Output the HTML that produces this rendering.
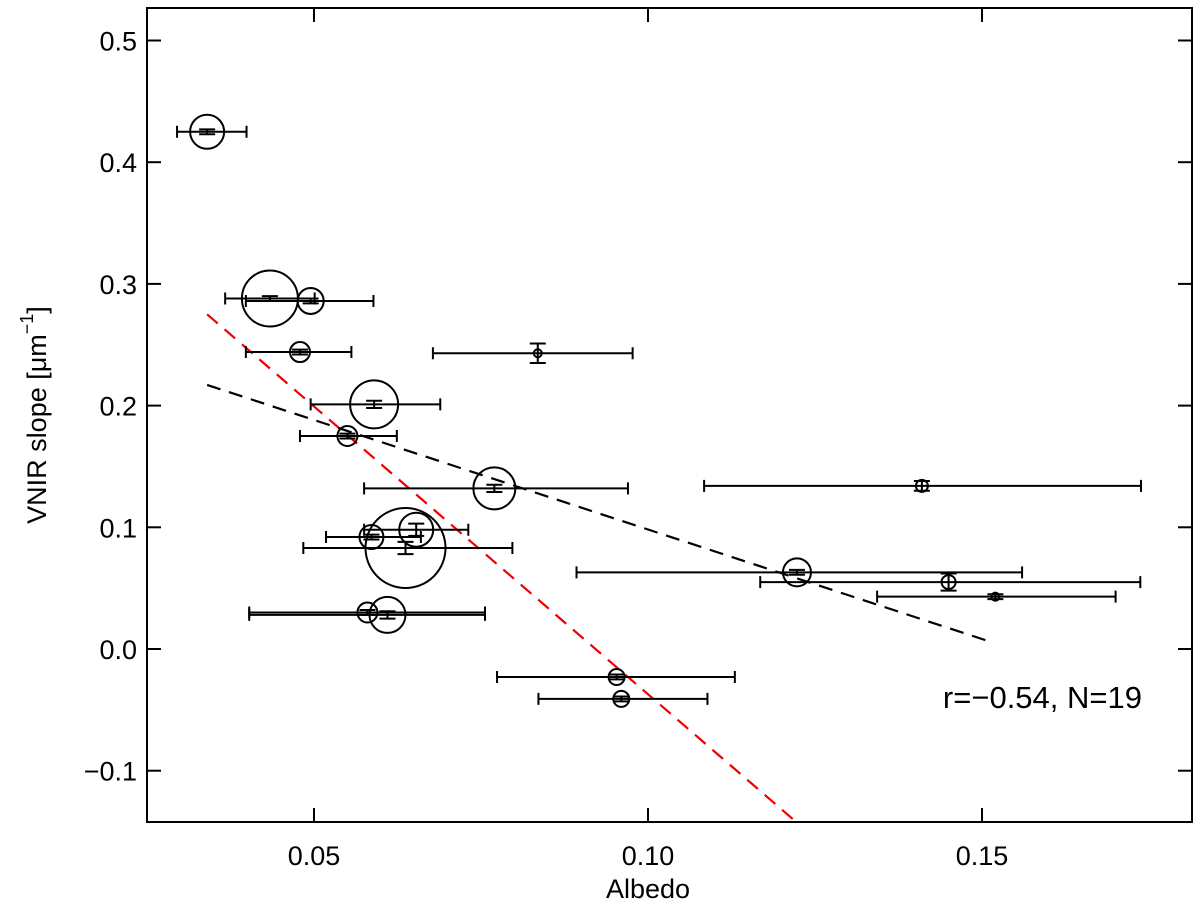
<!DOCTYPE html>
<html><head><meta charset="utf-8"><style>
body{margin:0;background:#fff}
svg text{font-family:"Liberation Sans",Arial,sans-serif;fill:#000}
</style></head><body>
<svg id="chart" width="1200" height="906" xmlns="http://www.w3.org/2000/svg">
<defs><clipPath id="clip"><rect x="147" y="8" width="1045" height="814"/></clipPath></defs>
<rect x="147" y="8" width="1045" height="814" fill="none" stroke="#000" stroke-width="2"/>
<g id="ticks"></g>
<g id="lines" clip-path="url(#clip)"></g>
<g id="points"></g>
<text x="648" y="898" font-size="27" text-anchor="middle">Albedo</text>
<text transform="translate(46,415) rotate(-90)" font-size="27" text-anchor="middle">VNIR slope [μm<tspan font-size="18" dy="-13">−1</tspan><tspan dy="13">]</tspan></text>
<text x="1142" y="708" font-size="31" text-anchor="end">r=−0.54, N=19</text>
</svg>
<script>
const xVals=[0.034,0.0434,0.0495,0.0479,0.0835,0.059,0.055,0.077,0.141,0.0653,0.0586,0.0637,0.1223,0.145,0.152,0.058,0.061,0.0953,0.096];
const yVals=[0.425,0.288,0.286,0.244,0.243,0.201,0.175,0.132,0.134,0.098,0.092,0.083,0.063,0.055,0.043,0.030,0.028,-0.023,-0.041];
const xLo=[0.0295,0.0367,0.0398,0.0398,0.0678,0.0495,0.0479,0.0575,0.1084,0.0575,0.0518,0.0484,0.0893,0.1168,0.1343,0.0403,0.0403,0.0774,0.0836];
const xHi=[0.0399,0.0501,0.0589,0.0556,0.0977,0.0689,0.0624,0.0970,0.1738,0.0731,0.0660,0.0797,0.1560,0.1737,0.1700,0.0756,0.0756,0.1130,0.1089];
const yErr=[0.002,0.002,0.002,0.002,0.008,0.003,0.002,0.003,0.004,0.005,0.002,0.005,0.002,0.007,0.002,0.002,0.003,0.002,0.002];
const sizes=[17,28,13,10,4,24,10,21,6,17,12,40,14,7,4,10,18,8,8];
const xTicks=[0.05,0.10,0.15];
const xTickLabels=["0.05","0.10","0.15"];
const yTicks=[0.5,0.4,0.3,0.2,0.1,0.0,-0.1];
const yTickLabels=["0.5","0.4","0.3","0.2","0.1","0.0","−0.1"];
const redFit=[0.034,0.275,-4.73];
const blackFit=[0.034,0.217,-1.80,0.1508];
const X=v=>314+(v-0.05)*6680, Y=v=>649-v*1217;
const NS="http://www.w3.org/2000/svg";
function mk(parent,tag,attrs){const e=document.createElementNS(NS,tag);for(const k in attrs)e.setAttribute(k,attrs[k]);document.getElementById(parent).appendChild(e);return e;}
xTicks.forEach((t,i)=>{
 let a=mk('ticks','line',{x1:X(t),x2:X(t),y1:822,y2:808,stroke:'#000','stroke-width':2});
 
 let b=mk('ticks','line',{x1:X(t),x2:X(t),y1:8,y2:22,stroke:'#000','stroke-width':2});
 
 let l=mk('ticks','text',{x:X(t),y:865,'font-size':27,'text-anchor':'middle'});l.textContent=xTickLabels[i];
 
});
yTicks.forEach((t,i)=>{
 let a=mk('ticks','line',{x1:147,x2:161,y1:Y(t),y2:Y(t),stroke:'#000','stroke-width':2});
 
 let b=mk('ticks','line',{x1:1192,x2:1178,y1:Y(t),y2:Y(t),stroke:'#000','stroke-width':2});
 
 let l=mk('ticks','text',{x:137,y:Y(t)+10,'font-size':27,'text-anchor':'end'});l.textContent=yTickLabels[i];
 
});
let x2=0.14;
let rl=mk('lines','line',{x1:X(redFit[0]),y1:Y(redFit[1]),x2:X(x2),y2:Y(redFit[1]+redFit[2]*(x2-redFit[0])),stroke:'#e00','stroke-width':2.2,'stroke-dasharray':'14,9'});

let bl=mk('lines','line',{x1:X(blackFit[0]),y1:Y(blackFit[1]),x2:X(blackFit[3]),y2:Y(blackFit[1]+blackFit[2]*(blackFit[3]-blackFit[0])),stroke:'#000','stroke-width':2.2,'stroke-dasharray':'14,9'});

xVals.forEach((xv,i)=>{
 const cx=X(xv),cy=Y(yVals[i]),a=X(xLo[i]),b=X(xHi[i]);
 const y1=Y(yVals[i]+yErr[i]),y2=Y(yVals[i]-yErr[i]);
 const d=`M${a},${cy}H${b}M${a},${cy-6}V${cy+6}M${b},${cy-6}V${cy+6}M${cx},${y1}V${y2}M${cx-8},${y1}H${cx+8}M${cx-8},${y2}H${cx+8}`;
 let p=mk('points','path',{d:d,stroke:'#000','stroke-width':2,fill:'none'});
 
 let c=mk('points','circle',{cx:cx,cy:cy,r:sizes[i],stroke:'#000','stroke-width':2,fill:'none'});
 
});
</script>
</body></html>
